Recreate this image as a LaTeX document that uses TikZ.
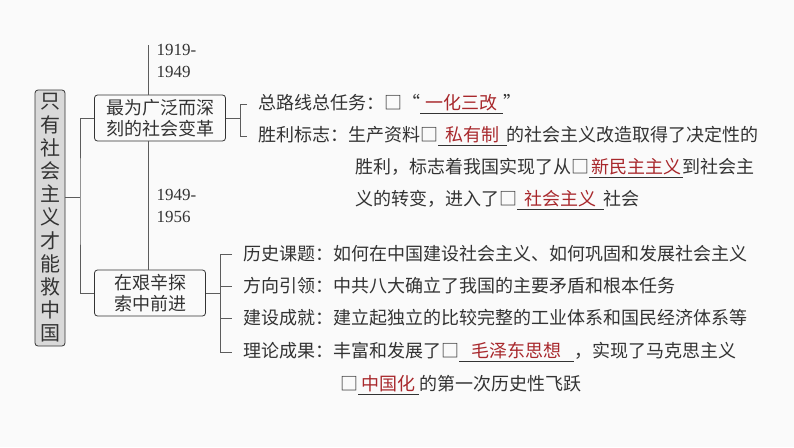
\documentclass[tikz,border=0pt]{standalone}
\usepackage{fontspec}
\setmainfont{Liberation Serif}
\newfontfamily\cjk{Noto Sans CJK SC}
\usetikzlibrary{positioning}
\definecolor{ink}{HTML}{333333}
\definecolor{fillred}{HTML}{A8282C}
\newcommand{\fillin}[2][0.4em]{\underline{\hspace{#1}\textcolor{fillred}{#2}\hspace{#1}}}
\begin{document}
\begin{tikzpicture}[x=1pt,y=-1pt,
    every node/.style={font=\cjk\fontsize{18}{21}\selectfont, text=ink},
    topic/.style={draw=ink, rounded corners=3pt, thick, align=center, inner sep=1pt},
    line/.style={draw=ink!80, thick},
    item/.style={anchor=west, inner sep=0pt},
    year/.style={anchor=west, font=\rmfamily\fontsize{17}{22}\selectfont, align=left}]
    \useasboundingbox[fill=gray!4] (0,0) rectangle (794,447);

    % Titel links
    \node[draw=ink, fill=gray!30, rounded corners=3pt, thick, minimum width=30, minimum height=256,
          align=center, font=\cjk\fontsize{20}{23.2}\selectfont] (root) at (50,218)
          {只\\有\\社\\会\\主\\义\\才\\能\\救\\中\\国};

    % Zwei Phasen
    \node[topic, minimum width=131, minimum height=46] (p1) at (160,118) {最为广泛而深\\刻的社会变革};
    \node[topic, minimum width=111, minimum height=46] (p2) at (150,293) {在艰辛探\\索中前进};
    \coordinate (b0) at (80,197);
    \draw[line] (root.east |- b0) -- (b0);
    \draw[line] (p1.west) -| (b0) |- (p2.west);

    % Zeitachse
    \coordinate (t0) at (148,45);
    \draw[line] (t0) -- (p1.north -| t0);
    \draw[line] (p1.south -| t0) -- (p2.north -| t0);
    \node[year] (y1) at (153,61) {1919-\\1949};
    \node[year] (y2) at (153,206) {1949-\\1956};

    % Phase 1
    \node[item] (a1) at (258,104) {总路线总任务：□“\fillin[0.3em]{一化三改}”};
    \node[item] (a2) at (258,136) {胜利标志：生产资料□\fillin{私有制}的社会主义改造取得了决定性的};
    \node[item] (a3) at (355,168) {胜利，标志着我国实现了从□\fillin[0.1em]{新民主主义}到社会主};
    \node[item] (a4) at (355,200) {义的转变，进入了□\fillin{社会主义}社会};
    \coordinate (c1) at (240,118);
    \draw[line] (p1.east |- c1) -- (c1);
    \draw[line] (a1.west) ++(-11,0) -- ++(-7,0) |- ([xshift=-11pt]a2.west);

    % Phase 2
    \node[item] (d1) at (243,254) {历史课题：如何在中国建设社会主义、如何巩固和发展社会主义};
    \node[item] (d2) at (243,286) {方向引领：中共八大确立了我国的主要矛盾和根本任务};
    \node[item] (d3) at (243,318) {建设成就：建立起独立的比较完整的工业体系和国民经济体系等};
    \node[item] (d4) at (243,352) {理论成果：丰富和发展了□\fillin[0.7em]{毛泽东思想}，实现了马克思主义};
    \node[item] (d5) at (340,385) {□\fillin[0.2em]{中国化}的第一次历史性飞跃};
    \coordinate (c2) at (220,293);
    \draw[line] (p2.east |- c2) -- (c2);
    \draw[line] ([xshift=-11pt]d1.west) -- ++(-12,0) |- ([xshift=-11pt]d4.west);
    \draw[line] ([xshift=-23pt]d2.west) -- ([xshift=-11pt]d2.west);
    \draw[line] ([xshift=-23pt]d3.west) -- ([xshift=-11pt]d3.west);
\end{tikzpicture}
\end{document}
